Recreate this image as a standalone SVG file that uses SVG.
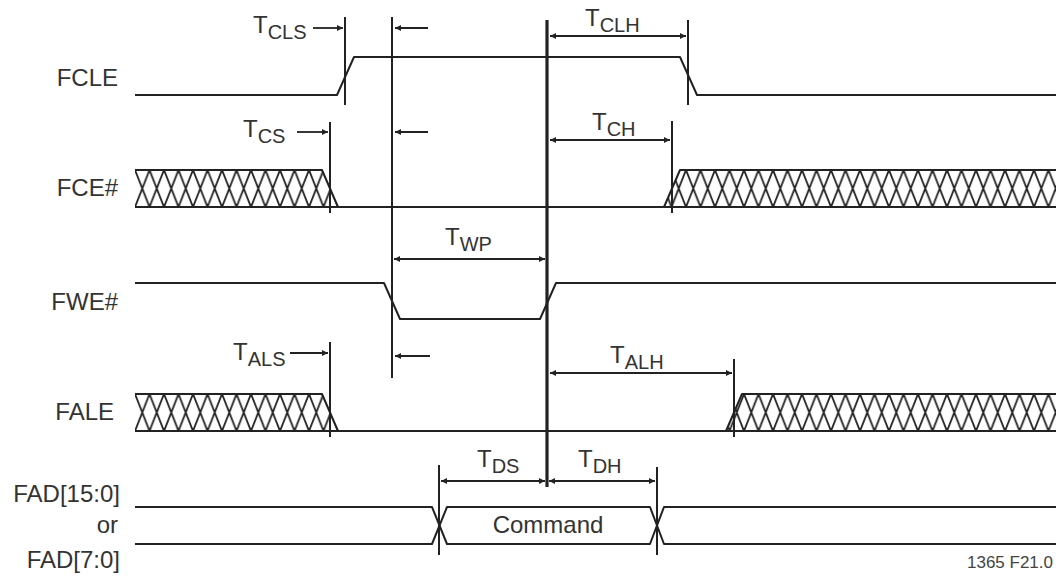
<svg xmlns="http://www.w3.org/2000/svg" width="1056" height="576" viewBox="0 0 1056 576">
<style>
.sig{fill:none;stroke:#222;stroke-width:2;stroke-linejoin:round}
.vl{stroke:#222;stroke-width:2}
.vm{stroke:#222;stroke-width:3.2}
.ar{stroke:#222;stroke-width:1.8;fill:none}
.lbl{font-family:"Liberation Sans",Arial,sans-serif;font-size:24px;fill:#333}
.t{font-family:"Liberation Sans",Arial,sans-serif;font-size:24px;fill:#333}
.sub{font-size:20px}
.ref{font-family:"Liberation Sans",Arial,sans-serif;font-size:17px;fill:#444}
</style>
<defs>
<marker id="ah" viewBox="0 0 10 10" refX="10" refY="5" markerWidth="8" markerHeight="6" markerUnits="userSpaceOnUse" orient="auto-start-reverse">
<path d="M0,0 L10,5 L0,10 z" fill="#222"/>
</marker>
<pattern id="hx1" patternUnits="userSpaceOnUse" x="135" y="170" width="14.5" height="37">
<path d="M0,0 L14.5,37 M14.5,0 L0,37" stroke="#222" stroke-width="1.8" fill="none"/>
</pattern>
<pattern id="hx2" patternUnits="userSpaceOnUse" x="135" y="394" width="14.5" height="37">
<path d="M0,0 L14.5,37 M14.5,0 L0,37" stroke="#222" stroke-width="1.8" fill="none"/>
</pattern>
</defs>
<rect width="1056" height="576" fill="#fff"/>

<g id="FCLE">
<text class="lbl" x="118" y="86" text-anchor="end">FCLE</text>
<path class="sig" d="M135,95 H337 L354,57 H680 L697,95 H1056"/>
</g>

<g id="FCE">
<text class="lbl" x="118" y="196" text-anchor="end">FCE#</text>
<path d="M135,170 H322 L338,207 H135 Z" fill="url(#hx1)"/>
<path d="M680,170 H1056 V207 H664 Z" fill="url(#hx1)"/>
<path class="sig" d="M135,170 H322 L338,207"/>
<path class="sig" d="M135,207 H664 L680,170 H1056"/>
<path class="sig" d="M664,207 H1056"/>
</g>

<g id="FWE">
<text class="lbl" x="118" y="310" text-anchor="end">FWE#</text>
<path class="sig" d="M135,283 H384 L400,319 H540 L556,283 H1056"/>
</g>

<g id="FALE">
<text class="lbl" x="114" y="420" text-anchor="end">FALE</text>
<path d="M135,394 H322 L338,431 H135 Z" fill="url(#hx2)"/>
<path d="M742,394 H1056 V431 H726 Z" fill="url(#hx2)"/>
<path class="sig" d="M135,394 H322 L338,431"/>
<path class="sig" d="M135,431 H726 L742,394 H1056"/>
<path class="sig" d="M726,431 H1056"/>
</g>

<g id="FAD">
<text class="lbl" x="120" y="502" text-anchor="end">FAD[15:0]</text>
<text class="lbl" x="118" y="533" text-anchor="end">or</text>
<text class="lbl" x="120" y="568" text-anchor="end">FAD[7:0]</text>
<path class="sig" d="M135,507 H432 L447,544 H650 L664,507 H1056"/>
<path class="sig" d="M135,544 H432 L447,507 H650 L664,544 H1056"/>
<text class="lbl" x="548" y="533" text-anchor="middle">Command</text>
</g>

<g id="connectors">
<line class="vl" x1="345" y1="17" x2="345" y2="105"/>
<line class="vl" x1="392" y1="17" x2="392" y2="378"/>
<line class="vl" x1="330" y1="122" x2="330" y2="213"/>
<line class="vl" x1="330" y1="342" x2="330" y2="437"/>
<line class="vm" x1="547" y1="20" x2="547" y2="487"/>
<line class="vl" x1="688" y1="20" x2="688" y2="105"/>
<line class="vl" x1="672" y1="121" x2="672" y2="213"/>
<line class="vl" x1="734" y1="359" x2="734" y2="437"/>
<line class="vl" x1="439" y1="465" x2="439" y2="555"/>
<line class="vl" x1="657" y1="467" x2="657" y2="555"/>

<line class="ar" x1="313" y1="28" x2="343" y2="28" marker-end="url(#ah)"/>
<line class="ar" x1="297" y1="132" x2="328" y2="132" marker-end="url(#ah)"/>
<line class="ar" x1="290" y1="353" x2="328" y2="353" marker-end="url(#ah)"/>
<line class="ar" x1="428" y1="28" x2="395" y2="28" marker-end="url(#ah)"/>
<line class="ar" x1="428" y1="132" x2="395" y2="132" marker-end="url(#ah)"/>
<line class="ar" x1="430" y1="356" x2="395" y2="356" marker-end="url(#ah)"/>
<line class="ar" x1="550" y1="36" x2="686" y2="36" marker-start="url(#ah)" marker-end="url(#ah)"/>
<line class="ar" x1="550" y1="140" x2="670" y2="140" marker-start="url(#ah)" marker-end="url(#ah)"/>
<line class="ar" x1="394" y1="259" x2="545" y2="259" marker-start="url(#ah)" marker-end="url(#ah)"/>
<line class="ar" x1="550" y1="373" x2="732" y2="373" marker-start="url(#ah)" marker-end="url(#ah)"/>
<line class="ar" x1="441" y1="481" x2="545" y2="481" marker-start="url(#ah)" marker-end="url(#ah)"/>
<line class="ar" x1="549" y1="481" x2="655" y2="481" marker-start="url(#ah)" marker-end="url(#ah)"/>
</g>

<g id="labels">
<text class="t" x="253" y="33">T<tspan class="sub" dy="6">CLS</tspan></text>
<text class="t" x="243" y="137">T<tspan class="sub" dy="6">CS</tspan></text>
<text class="t" x="585" y="26">T<tspan class="sub" dy="6">CLH</tspan></text>
<text class="t" x="592" y="130">T<tspan class="sub" dy="6">CH</tspan></text>
<text class="t" x="445" y="245">T<tspan class="sub" dy="6">WP</tspan></text>
<text class="t" x="233" y="360">T<tspan class="sub" dy="6">ALS</tspan></text>
<text class="t" x="610" y="363">T<tspan class="sub" dy="6">ALH</tspan></text>
<text class="t" x="477" y="467">T<tspan class="sub" dy="6">DS</tspan></text>
<text class="t" x="578" y="467">T<tspan class="sub" dy="6">DH</tspan></text>
<text class="ref" x="1053" y="568" text-anchor="end">1365 F21.0</text>
</g>
</svg>
